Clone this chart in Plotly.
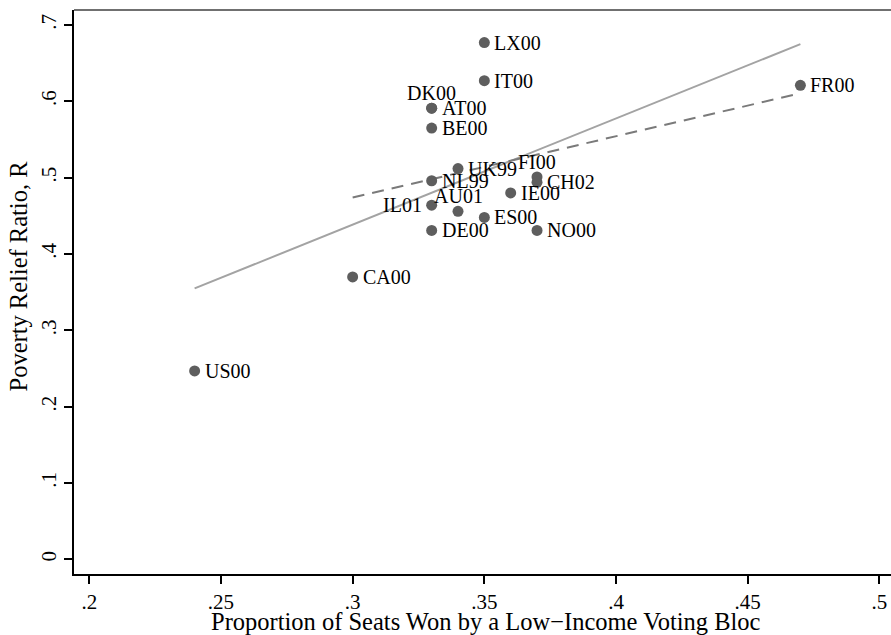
import plotly.graph_objects as go

# ---- data ----
countries = ["US00", "CA00", "DE00", "AU01", "IL01", "NL99", "UK99", "ES00", "IE00",
             "FI00", "CH02", "NO00", "BE00", "AT00", "DK00", "IT00", "LX00", "FR00"]
seats = [0.24, 0.30, 0.33, 0.34, 0.33, 0.33, 0.34, 0.35, 0.36,
         0.37, 0.37, 0.37, 0.33, 0.33, 0.33, 0.35, 0.35, 0.47]
relief = [0.247, 0.370, 0.431, 0.456, 0.464, 0.496, 0.512, 0.448, 0.480,
          0.501, 0.494, 0.431, 0.565, 0.591, 0.591, 0.627, 0.677, 0.621]
label_pos = ["r", "r", "r", "t", "l", "r", "r", "r", "r",
             "t", "r", "r", "r", "r", "t", "r", "r", "r"]

fit_all_x = [0.24, 0.47]
fit_all_y = [0.355, 0.675]
fit_sub_x = [0.30, 0.47]
fit_sub_y = [0.474, 0.6105]

x_ticks = [0.2, 0.25, 0.3, 0.35, 0.4, 0.45, 0.5]
x_tick_text = [".2", ".25", ".3", ".35", ".4", ".45", ".5"]
y_ticks = [0, 0.1, 0.2, 0.3, 0.4, 0.5, 0.6, 0.7]
y_tick_text = ["0", ".1", ".2", ".3", ".4", ".5", ".6", ".7"]

x_title = "Proportion of Seats Won by a Low\u2212Income Voting Bloc"
y_title = "Poverty Relief Ratio, R"

FONT = "Liberation Serif"

fig = go.Figure()
fig.add_trace(go.Scatter(x=fit_all_x, y=fit_all_y, mode="lines",
                         line=dict(color="#a3a3a3", width=2), hoverinfo="skip"))
fig.add_trace(go.Scatter(x=fit_sub_x, y=fit_sub_y, mode="lines",
                         line=dict(color="#7a7a7a", width=2, dash="12px,8px"), hoverinfo="skip"))
fig.add_trace(go.Scatter(x=seats, y=relief, mode="markers",
                         marker=dict(size=11, color="#5e5e5e", line=dict(width=0)),
                         text=countries, hoverinfo="text"))

annotations = []
for c, xv, yv, p in zip(countries, seats, relief, label_pos):
    if p == "r":
        a = dict(xanchor="left", yanchor="middle", xshift=8, yshift=0)
    elif p == "l":
        a = dict(xanchor="right", yanchor="middle", xshift=-8, yshift=0)
    else:
        a = dict(xanchor="center", yanchor="middle", xshift=0, yshift=15)
    annotations.append(dict(x=xv, y=yv, xref="x", yref="y", text=c, showarrow=False,
                            font=dict(family=FONT, size=20, color="black"), **a))

annotations.append(dict(x=0.5, y=0, xref="paper", yref="paper", text=x_title,
                        showarrow=False, xanchor="center", yanchor="middle", yshift=-47, xshift=3,
                        font=dict(family=FONT, size=24.5, color="black")))
annotations.append(dict(x=0, y=0.5275, xref="paper", yref="paper", text=y_title,
                        showarrow=False, xanchor="center", yanchor="middle", xshift=-56,
                        textangle=-90, font=dict(family=FONT, size=24.5, color="black")))

fig.update_layout(
    width=891, height=635,
    margin=dict(l=74, r=0, t=10, b=61),
    paper_bgcolor="white", plot_bgcolor="white",
    showlegend=False,
    annotations=annotations,
    font=dict(family=FONT, color="black"),
    shapes=[dict(type="line", xref="paper", yref="paper", x0=0, x1=1, y0=1, y1=1,
                 line=dict(color="#404040", width=1.5))],
)
fig.update_xaxes(range=[0.1942, 0.5044], tickvals=x_ticks, ticktext=x_tick_text,
                 showgrid=False, zeroline=False, showline=True, linecolor="black",
                 linewidth=1.5, ticks="outside", ticklen=8, tickwidth=1.5, tickcolor="black",
                 tickfont=dict(family=FONT, size=21, color="black"))
fig.update_yaxes(range=[-0.019, 0.7196], tickvals=y_ticks, ticktext=y_tick_text,
                 showgrid=False, zeroline=False, showline=True, linecolor="black",
                 linewidth=1.5, ticks="outside", ticklen=8, tickwidth=1.5, tickcolor="black",
                 tickangle=-90,
                 tickfont=dict(family=FONT, size=21, color="black"))

fig.write_html("out.html", config={"displayModeBar": False},
               post_script="document.body.style.margin='0';")
